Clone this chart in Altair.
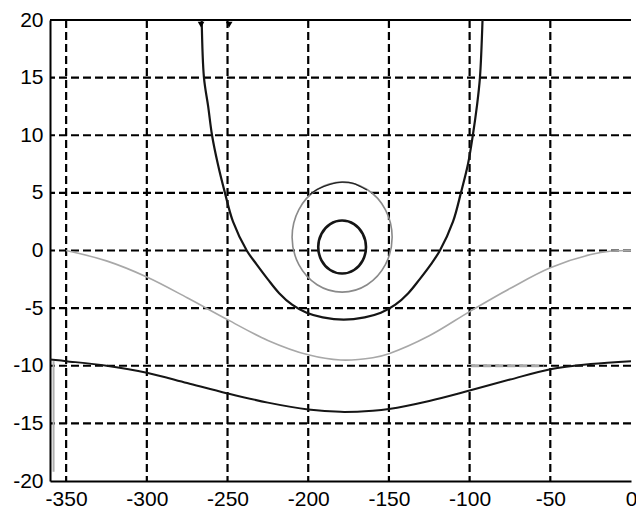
import altair as alt
import pandas as pd

# ---- data ----
x_ticks = [-350, -300, -250, -200, -150, -100, -50, 0]
y_ticks = [-20, -15, -10, -5, 0, 5, 10, 15, 20]
grid_x = [-350, -300, -250, -200, -150, -100, -50]
grid_y = [-15, -10, -5, 0, 5, 10, 15]

u_x = [-266, -264.6, -262, -259.6, -256, -251.6, -246.6, -238.1, -232, -225, -218, -210, -201, -191,
       -178, -165, -155, -146, -138, -131, -124, -118.4, -110.3, -105.4, -101, -98, -95.5, -93.6, -92]
u_y = [20, 15, 12.5, 10, 7.5, 5, 2.5, 0, -1.2, -2.5, -3.7, -4.7, -5.4, -5.8,
       -6, -5.8, -5.4, -4.7, -3.7, -2.5, -1.2, 0, 2.5, 5, 7.5, 10, 12.5, 15, 20]

gray_x = [-350, -325, -300, -275, -250, -225, -200, -180, -160, -150, -125, -100, -75, -50, -25, -12, 0]
gray_y = [0, -0.9, -2.3, -4.1, -6.0, -7.8, -9.05, -9.5, -9.3, -8.95, -7.4, -5.3, -3.3, -1.5, -0.35, -0.05, 0]

low_x = [-360, -350, -325, -300, -275, -250, -225, -200, -180, -160, -150, -125, -100, -75, -50, -25, 0]
low_y = [-9.45, -9.6, -10.0, -10.6, -11.5, -12.4, -13.2, -13.8, -14.0, -13.9, -13.75, -13.05,
         -12.15, -11.2, -10.3, -9.85, -9.6]

ring_x = [-148, -152.2, -163.5, -179, -194.5, -205.8, -210, -205.8, -194.5, -179, -163.5, -152.2]
ring_y = [1.16, 3.55, 5.29, 5.93, 5.29, 3.55, 1.16, -1.23, -2.97, -3.61, -2.97, -1.23]

arc_x = [-199, -194.5, -186, -179, -172, -163.6]
arc_y = [4.85, 5.29, 5.76, 5.93, 5.83, 5.25]

circ_x = [-164.2, -166.2, -171.6, -179, -186.4, -191.8, -193.8, -191.8, -186.4, -179, -171.6, -166.2]
circ_y = [0.3, 1.45, 2.29, 2.6, 2.29, 1.45, 0.3, -0.85, -1.69, -2.0, -1.69, -0.85]

edge_x = [-357.8, -357.8]
edge_y = [-9.6, -19.2]

tri_x = [-266.4, -249]
tri_y = [19.6, 19.6]

FONT = "Liberation Sans"
LABEL = "datum.value < 0 ? '-' + abs(datum.value) : '' + datum.value"

xscale = alt.Scale(domain=[-360, 0], nice=False, zero=False)
yscale = alt.Scale(domain=[-20, 20], nice=False, zero=False)
xaxis = alt.Axis(values=x_ticks, grid=False, ticks=False, domain=True, domainColor="black",
                 domainWidth=2, labelFont=FONT, labelFontSize=21, labelColor="black",
                 labelPadding=7, title=None, labelFlush=False, labelOverlap=False,
                 labelExpr=LABEL)
yaxis = alt.Axis(values=y_ticks, grid=False, ticks=False, domain=True, domainColor="black",
                 domainWidth=2, labelFont=FONT, labelFontSize=21, labelColor="black",
                 labelPadding=7, title=None, labelFlush=False, labelOverlap=False,
                 labelExpr=LABEL)


def X(f="x"):
    return alt.X(f"{f}:Q", scale=xscale, axis=xaxis)


def Y(f="y"):
    return alt.Y(f"{f}:Q", scale=yscale, axis=yaxis)


def df(xs, ys):
    return pd.DataFrame({"x": xs, "y": ys, "o": list(range(len(xs)))})


vgrid = alt.Chart(pd.DataFrame({"x": grid_x})).mark_rule(
    color="black", strokeWidth=2.2, strokeDash=[8, 4]).encode(x=X())
hgrid = alt.Chart(pd.DataFrame({"y": grid_y})).mark_rule(
    color="black", strokeWidth=2.2, strokeDash=[8, 4]).encode(y=Y())
gray_seg = alt.Chart(pd.DataFrame({"x": [-99], "x2": [-54], "y": [-10]})).mark_rule(
    color="#aaaaaa", strokeWidth=3, strokeDash=[8, 4]).encode(x=X(), x2="x2:Q", y=Y())
top = alt.Chart(pd.DataFrame({"y": [20]})).mark_rule(color="black", strokeWidth=2).encode(y=Y())


def line(xs, ys, color, width, interp="catmull-rom"):
    return alt.Chart(df(xs, ys)).mark_line(color=color, strokeWidth=width, interpolate=interp).encode(
        x=X(), y=Y(), order="o:Q")


u = line(u_x, u_y, "#151515", 2.2)
gray = line(gray_x, gray_y, "#a8a8a8", 1.6)
low = line(low_x, low_y, "#151515", 2.0)
ring = line(ring_x, ring_y, "#8a8a8a", 1.6, "cardinal-closed")
arc = line(arc_x, arc_y, "#222222", 1.3)
circ = line(circ_x, circ_y, "#151515", 2.6, "cardinal-closed")
edge = line(edge_x, edge_y, "#b0b0b0", 2.0, "linear")
tri = alt.Chart(df(tri_x, tri_y)).mark_point(shape="triangle-down", filled=True, color="black",
                                             size=45, opacity=1).encode(x=X(), y=Y())

chart = alt.layer(vgrid, hgrid, gray_seg, top, gray, low, ring, arc, u, circ, edge, tri).properties(
    width=581, height=461,
    autosize=alt.AutoSizeParams(type="none"),
    padding={"left": 50, "top": 20, "right": 5, "bottom": 28},
    background="white",
).configure_view(stroke=None)

chart.save("out.html", embed_options={"renderer": "svg", "actions": False})
